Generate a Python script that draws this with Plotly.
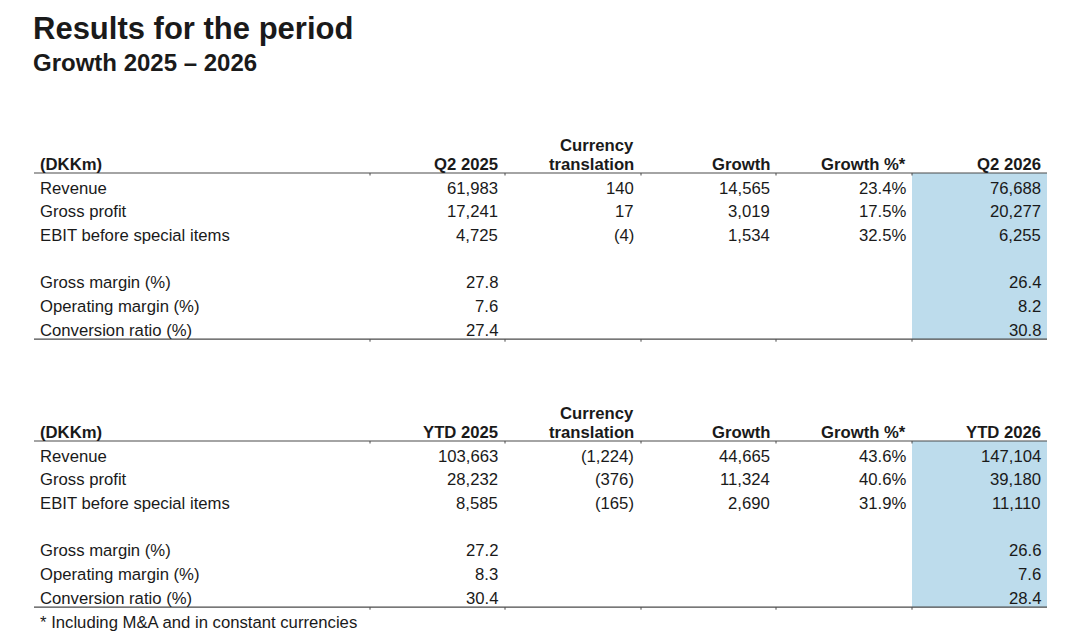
import plotly.graph_objects as go

# ---- data ----
title = "Results for the period"
subtitle = "Growth 2025 \u2013 2026"
footnote = "* Including M&A and in constant currencies"

row_labels = ["Revenue", "Gross profit", "EBIT before special items", "",
              "Gross margin (%)", "Operating margin (%)", "Conversion ratio (%)"]

q2_header = ["Q2 2025", "translation", "Growth", "Growth %*", "Q2 2026"]
ytd_header = ["YTD 2025", "translation", "Growth", "Growth %*", "YTD 2026"]
header_top = ["", "Currency", "", "", ""]

q2_2025 = [61983, 17241, 4725, None, 27.8, 7.6, 27.4]
q2_fx = [140, 17, -4, None, None, None, None]
q2_growth = [14565, 3019, 1534, None, None, None, None]
q2_growth_pct = [23.4, 17.5, 32.5, None, None, None, None]
q2_2026 = [76688, 20277, 6255, None, 26.4, 8.2, 30.8]

ytd_2025 = [103663, 28232, 8585, None, 27.2, 8.3, 30.4]
ytd_fx = [-1224, -376, -165, None, None, None, None]
ytd_growth = [44665, 11324, 2690, None, None, None, None]
ytd_growth_pct = [43.6, 40.6, 31.9, None, None, None, None]
ytd_2026 = [147104, 39180, 11110, None, 26.6, 7.6, 28.4]

# ---- layout constants (pixels of the page) ----
FONT = "Liberation Sans, Arial, sans-serif"
INK = "#1a1a1a"
RULE = "#4a4a4a"
BLUE = "#bddcec"
BODY = 16.7
LEFT = 34
LABEL_X = 41
RIGHT = 1047
col_right = [497, 633, 769, 905, 1040]
col_edges = [370, 505, 641, 776, 912]
ROW_H = 23.7
PAGE_OFFSET = 8  # the html body margin
PAD = 3          # annotation inner padding


def fmt_num(v):
    if v is None:
        return ""
    if isinstance(v, float):
        return f"{v:.1f}"
    return f"({abs(v):,})" if v < 0 else f"{v:,}"


def fmt_pct(v):
    return "" if v is None else f"{v:.1f}%"


fig = go.Figure()
fig.add_trace(go.Scatter(x=[0], y=[0], mode="markers", marker=dict(opacity=0),
                         hoverinfo="skip", showlegend=False))

annotations = []
shapes = []


def text(x, y, s, anchor="right", size=BODY, bold=False):
    if bold:
        s = f"<b>{s}</b>"
    x = x + PAD if anchor == "right" else x - PAD
    annotations.append(dict(x=x, y=y, xref="x", yref="y", text=s, showarrow=False,
                            xanchor=anchor, yanchor="middle",
                            font=dict(family=FONT, size=size, color=INK)))


def add_table(top, header, columns):
    header_y = top
    line_y = top + 9
    first_row = top + 24
    bottom_y = first_row + ROW_H * (len(row_labels) - 1) + 9

    # shaded current-period column
    shapes.append(dict(type="rect", xref="x", yref="y", x0=col_edges[-1], x1=RIGHT,
                       y0=line_y, y1=bottom_y, fillcolor=BLUE, line=dict(width=0),
                       layer="below"))
    for y in (line_y, bottom_y):
        shapes.append(dict(type="line", xref="x", yref="y", x0=LEFT, x1=RIGHT,
                           y0=y, y1=y, line=dict(color=RULE, width=1.2)))
        for xe in col_edges:
            shapes.append(dict(type="line", xref="x", yref="y", x0=xe, x1=xe,
                               y0=y, y1=y + 2.5, line=dict(color=RULE, width=1)))

    text(LABEL_X, header_y, "(DKKm)", anchor="left", bold=True)
    for xr, top_txt, h in zip(col_right, header_top, header):
        if top_txt:
            text(xr, header_y - 19, top_txt, bold=True)
        text(xr, header_y, h, bold=True)

    for i, label in enumerate(row_labels):
        y = first_row + ROW_H * i
        if label:
            text(LABEL_X, y, label, anchor="left")
        for xr, (vals, f) in zip(col_right, columns):
            s = f(vals[i])
            if s:
                text(xr, y, s)
    return bottom_y


add_table(164, q2_header, [(q2_2025, fmt_num), (q2_fx, fmt_num), (q2_growth, fmt_num),
                           (q2_growth_pct, fmt_pct), (q2_2026, fmt_num)])
end_y = add_table(432, ytd_header, [(ytd_2025, fmt_num), (ytd_fx, fmt_num),
                                    (ytd_growth, fmt_num), (ytd_growth_pct, fmt_pct),
                                    (ytd_2026, fmt_num)])

text(LEFT, 28, title, anchor="left", size=31, bold=True)
text(LEFT, 62, subtitle, anchor="left", size=24, bold=True)
text(LABEL_X, end_y + 15, footnote, anchor="left")

fig.update_layout(
    width=1080, height=640,
    margin=dict(l=0, r=0, t=0, b=0),
    paper_bgcolor="white", plot_bgcolor="white",
    xaxis=dict(range=[PAGE_OFFSET, 1080 + PAGE_OFFSET], visible=False, fixedrange=True),
    yaxis=dict(range=[640 + PAGE_OFFSET, PAGE_OFFSET], visible=False, fixedrange=True),
    annotations=annotations, shapes=shapes,
    showlegend=False,
)

fig.write_html("out.html")
